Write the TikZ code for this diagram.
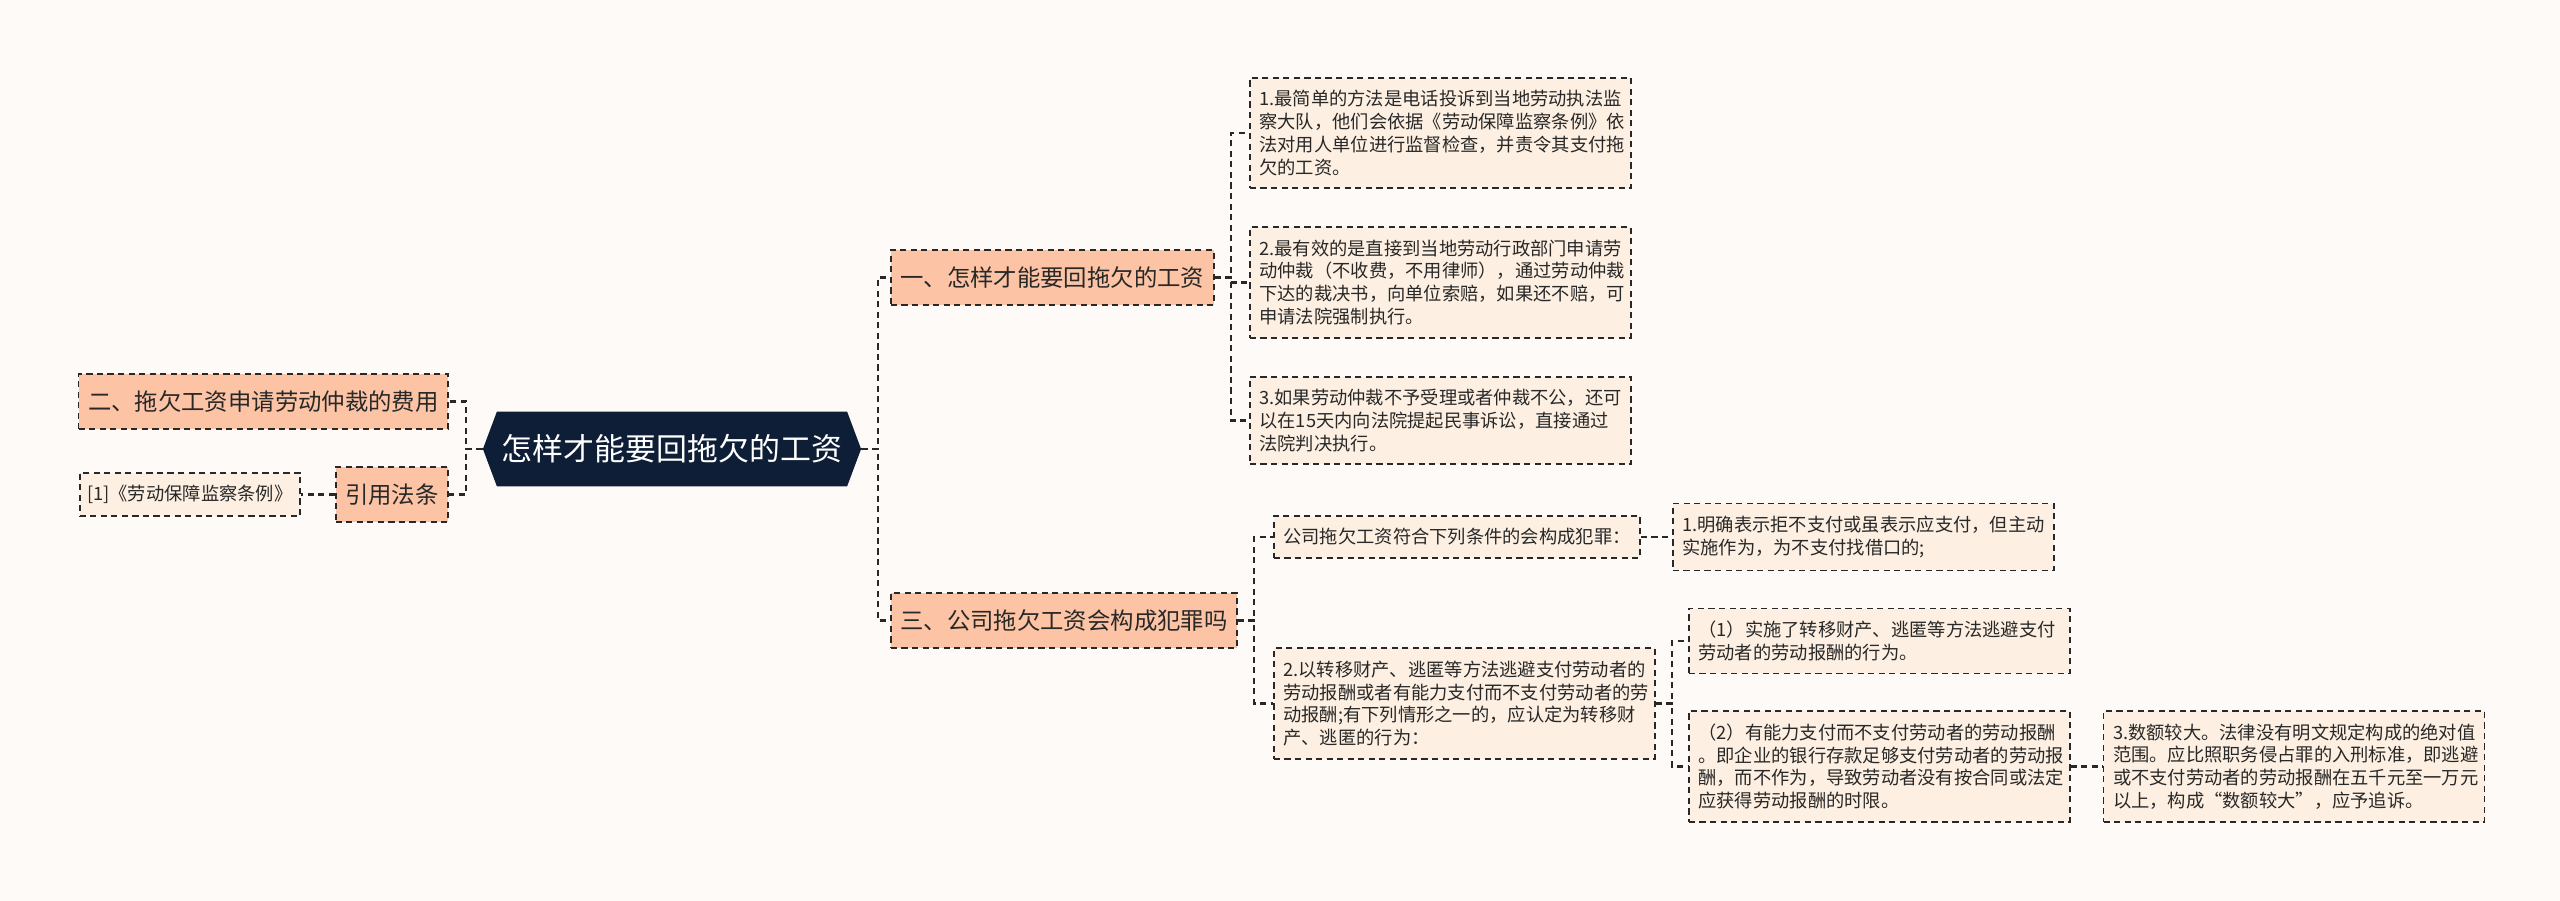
\documentclass[tikz,border=0pt]{standalone}
\usepackage{fontspec}
\setmainfont{Noto Sans CJK SC}
\usetikzlibrary{positioning, shapes.symbols}
\definecolor{rootnavy}{RGB}{14,30,54}
\definecolor{branchpeach}{RGB}{252,196,165}
\definecolor{leafcream}{RGB}{253,240,226}
\definecolor{paper}{RGB}{253,250,248}
\definecolor{inkgray}{RGB}{40,40,40}

\begin{document}
\begin{tikzpicture}[
  x=0.02cm, y=-0.02cm,
  root/.style={signal, signal to=west and east, signal pointer angle=139,
               fill=rootnavy, text=white, minimum width=7.5cm, minimum height=1.5cm,
               inner xsep=0.1cm, font=\fontsize{17.6pt}{21pt}\selectfont},
  dashbox/.style={draw=inkgray, line width=1pt, dash pattern=on 3.5pt off 2.5pt},
  branch/.style={dashbox, fill=branchpeach, text=inkgray, minimum height=1.1cm,
                 inner xsep=0.19cm, font=\fontsize{13.3pt}{16pt}\selectfont},
  leaf/.style={dashbox, fill=leafcream, text=inkgray, inner xsep=0.19cm, inner ysep=0.25cm,
               font=\fontsize{10.4pt}{13pt}\selectfont},
  note/.style={leaf, text width=7.24cm, align=left},
  link/.style={draw=inkgray, line width=1.2pt, dash pattern=on 3.5pt off 2.5pt}
]
  \fill[paper] (0,0) rectangle (2560,901);
  \useasboundingbox (0,0) rectangle (2560,901);

  % centre and main branches
  \node[root] (root) at (672,449) {怎样才能要回拖欠的工资};
  \node[branch, anchor=west] (b1) at (890,277.5) {一、怎样才能要回拖欠的工资};
  \node[branch, anchor=west] (b3) at (890,620.5) {三、公司拖欠工资会构成犯罪吗};
  \node[branch, anchor=east] (b2) at (449,401.5) {二、拖欠工资申请劳动仲裁的费用};
  \node[branch, anchor=east] (cite) at (449,494.5) {引用法条};
  \node[leaf, inner xsep=0.15cm, left=0.68cm of cite] (law) {[1]《劳动保障监察条例》};

  % ways to get the wages back
  \node[note, anchor=west] (way1) at (1249,133) {1.最简单的方法是电话投诉到当地劳动执法监\\察大队，他们会依据《劳动保障监察条例》依\\法对用人单位进行监督检查，并责令其支付拖\\欠的工资。};
  \node[note, anchor=west] (way2) at (1249,282.5) {2.最有效的是直接到当地劳动行政部门申请劳\\动仲裁（不收费，不用律师），通过劳动仲裁\\下达的裁决书，向单位索赔，如果还不赔，可\\申请法院强制执行。};
  \node[note, anchor=west] (way3) at (1249,420.5) {3.如果劳动仲裁不予受理或者仲裁不公，还可\\以在15天内向法院提起民事诉讼，直接通过\\法院判决执行。};

  % crime conditions
  \node[leaf, anchor=west] (cond) at (1273,537) {公司拖欠工资符合下列条件的会构成犯罪：};
  \node[note, right=0.62cm of cond] (refuse) {1.明确表示拒不支付或虽表示应支付，但主动\\实施作为，为不支付找借口的;};
  \node[note, anchor=west] (escape) at (1273,703.5) {2.以转移财产、逃匿等方法逃避支付劳动者的\\劳动报酬或者有能力支付而不支付劳动者的劳\\动报酬;有下列情形之一的，应认定为转移财\\产、逃匿的行为：};
  \node[note, anchor=west] (esc1) at (1688,641) {（1）实施了转移财产、逃匿等方法逃避支付\\劳动者的劳动报酬的行为。};
  \node[note, anchor=west] (esc2) at (1688,766.5) {（2）有能力支付而不支付劳动者的劳动报酬\\。即企业的银行存款足够支付劳动者的劳动报\\酬，而不作为，导致劳动者没有按合同或法定\\应获得劳动报酬的时限。};
  \node[note, right=0.64cm of esc2] (amount) {3.数额较大。法律没有明文规定构成的绝对值\\范围。应比照职务侵占罪的入刑标准，即逃避\\或不支付劳动者的劳动报酬在五千元至一万元\\以上，构成“数额较大”，应予追诉。};

  % connectors
  \foreach \kid in {b1, b3}
    \draw[link] (root.east) -- ++(0.33cm,0) |- (\kid.west);
  \foreach \kid in {b2, cite}
    \draw[link] (root.west) -- ++(-0.33cm,0) |- (\kid.east);
  \draw[link] (cite) -- (law);
  \foreach \kid in {way1, way2, way3}
    \draw[link] (b1.east) -- ++(0.33cm,0) |- (\kid.west);
  \foreach \kid in {cond, escape}
    \draw[link] (b3.east) -- ++(0.33cm,0) |- (\kid.west);
  \draw[link] (cond) -- (refuse);
  \foreach \kid in {esc1, esc2}
    \draw[link] (escape.east) -- ++(0.33cm,0) |- (\kid.west);
  \draw[link] (esc2) -- (amount);
\end{tikzpicture}
\end{document}
